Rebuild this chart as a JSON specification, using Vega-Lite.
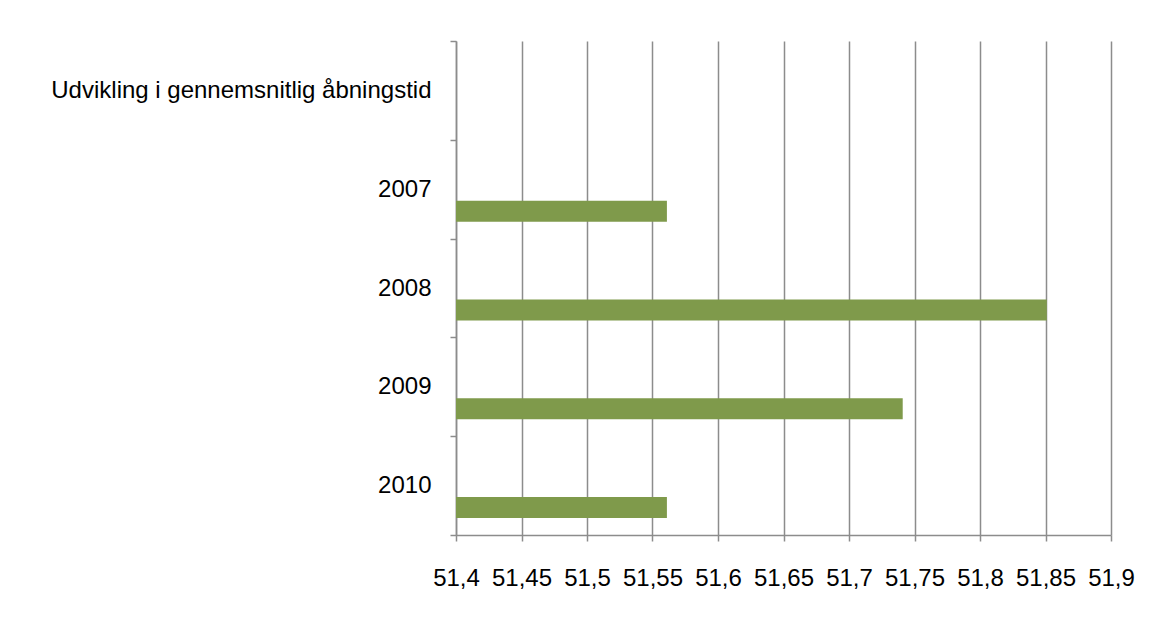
{
  "$schema": "https://vega.github.io/schema/vega-lite/v6.json",
  "autosize": {"type": "none"},
  "width": 655,
  "height": 494,
  "padding": {"left": 456, "top": 41, "right": 58, "bottom": 89},
  "background": "white",
  "config": {"view": {"stroke": null}},
  "data": {
    "values": [
      {"category": "2007", "value": 51.561},
      {"category": "2008", "value": 51.851},
      {"category": "2009", "value": 51.741},
      {"category": "2010", "value": 51.561}
    ]
  },
  "mark": {"type": "bar", "color": "#7F9A4B", "height": 21, "yOffset": 22},
  "encoding": {
    "y": {
      "field": "category",
      "type": "nominal",
      "sort": null,
      "scale": {
        "domain": ["Udvikling i gennemsnitlig åbningstid", "2007", "2008", "2009", "2010"],
        "paddingInner": 0,
        "paddingOuter": 0
      },
      "axis": {
        "title": null,
        "tickBand": "extent",
        "domainColor": "#8c8c8c",
        "domainWidth": 1.5,
        "tickColor": "#8c8c8c",
        "tickWidth": 1.5,
        "tickSize": 6,
        "labelPadding": 19,
        "labelFont": "Liberation Sans",
        "labelFontSize": 24,
        "labelColor": "#000000",
        "labelLimit": 500,
        "grid": false
      }
    },
    "x": {
      "field": "value",
      "type": "quantitative",
      "scale": {"domain": [51.4, 51.9], "zero": false, "nice": false},
      "axis": {
        "title": null,
        "values": [51.4, 51.45, 51.5, 51.55, 51.6, 51.65, 51.7, 51.75, 51.8, 51.85, 51.9],
        "labelExpr": "replace(format(datum.value, '.2~f'), '.', ',')",
        "grid": true,
        "gridColor": "#8c8c8c",
        "gridWidth": 1.5,
        "domainColor": "#8c8c8c",
        "domainWidth": 1.5,
        "tickColor": "#8c8c8c",
        "tickWidth": 1.5,
        "tickSize": 6,
        "labelPadding": 25,
        "labelFont": "Liberation Sans",
        "labelFontSize": 24,
        "labelColor": "#000000",
        "labelFlush": false,
        "labelOverlap": false
      }
    },
    "x2": {"datum": 51.4}
  }
}
